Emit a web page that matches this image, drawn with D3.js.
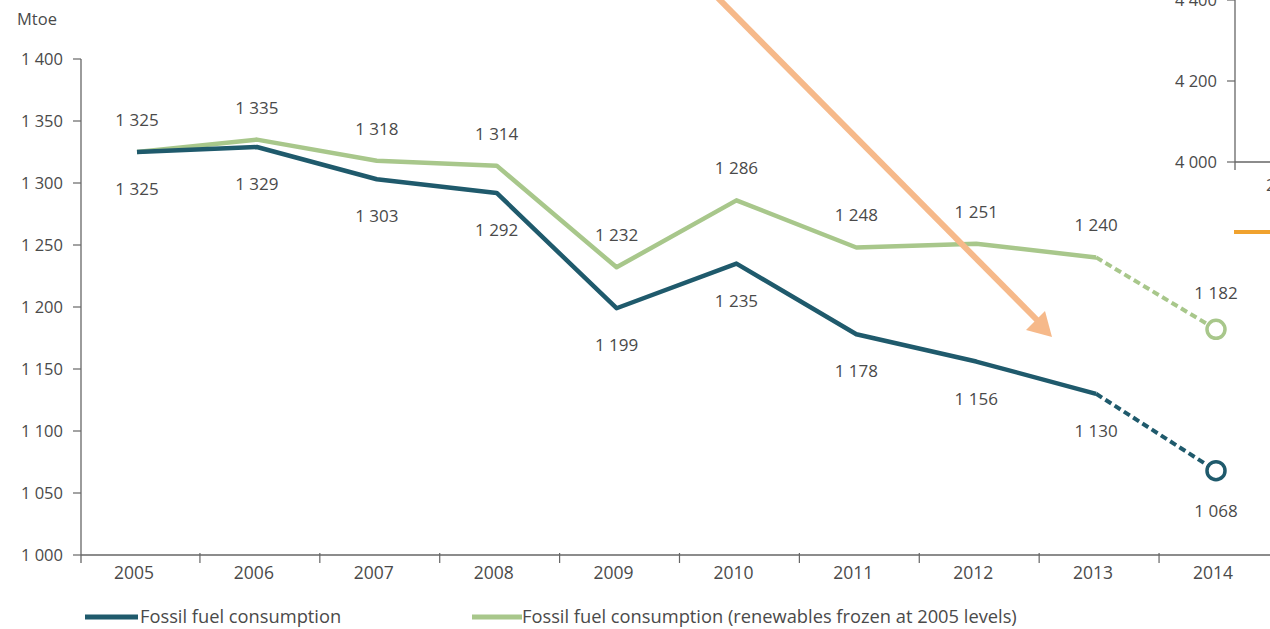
<!DOCTYPE html>
<html>
<head>
<meta charset="utf-8">
<script src="https://cdn.jsdelivr.net/npm/d3@7"></script>
<style>
  html, body { margin: 0; padding: 0; background: #fff; }
  svg { display: block; }
  text { font-family: "Open Sans", "Noto Sans", sans-serif; fill: #4a4a4a; }
</style>
</head>
<body>
<svg id="chart" width="1270" height="629"></svg>
<script>
// ---- data ----
const years = [2005, 2006, 2007, 2008, 2009, 2010, 2011, 2012, 2013, 2014];
const fossil = [1325, 1329, 1303, 1292, 1199, 1235, 1178, 1156, 1130, 1068];
const frozen = [1325, 1335, 1318, 1314, 1232, 1286, 1248, 1251, 1240, 1182];
const yTicks = [1000, 1050, 1100, 1150, 1200, 1250, 1300, 1350, 1400];
const seriesNames = ["Fossil fuel consumption", "Fossil fuel consumption (renewables frozen at 2005 levels)"];
// partial inset (overlapping neighbouring chart)
const insetTicks = [4000, 4200, 4400];

const colDark = "#1f5a6c";
const colGreen = "#a8c78b";
const colArrow = "#f6b98a";
const colOrange = "#f0a22e";
const axisCol = "#666";

const fmt = v => d3.format(",")(v).replace(/,/g, " ");

const svg = d3.select("#chart");

const x = d3.scalePoint().domain(years).range([137, 1216]);
const step = x.step();
const y = d3.scaleLinear().domain([1000, 1400]).range([555, 59]);

// ---- y axis ----
const yAxisG = svg.append("g").attr("transform", "translate(81,0)");
yAxisG.append("line").attr("x1", 0).attr("x2", 0).attr("y1", y(1400)).attr("y2", y(1000) + 8)
  .attr("stroke", axisCol).attr("stroke-width", 1.3);
yTicks.forEach(t => {
  yAxisG.append("line").attr("x1", -8).attr("x2", 0).attr("y1", y(t)).attr("y2", y(t))
    .attr("stroke", axisCol).attr("stroke-width", 1.2);
  yAxisG.append("text").attr("x", -18).attr("y", y(t)).attr("dy", "0.35em")
    .attr("text-anchor", "end").style("font-size", "16.5px").text(fmt(t));
});
svg.append("text").attr("x", 17).attr("y", 25).style("font-size", "16.5px").text("Mtoe");

// ---- x axis ----
svg.append("line").attr("x1", 81).attr("x2", 1270).attr("y1", y(1000)).attr("y2", y(1000))
  .attr("stroke", axisCol).attr("stroke-width", 1.3);
years.forEach((yr, i) => {
  if (i < years.length - 1) {
    const tx = x(yr) + step * 0.525;
    svg.append("line").attr("x1", tx).attr("x2", tx).attr("y1", y(1000) - 2).attr("y2", y(1000) + 8)
      .attr("stroke", axisCol).attr("stroke-width", 1.2);
  }
  svg.append("text").attr("x", x(yr) - 3).attr("y", 579).attr("text-anchor", "middle")
    .style("font-size", "17.5px").text(yr);
});

// ---- lines ----
const line = d3.line().x(d => x(d.year)).y(d => y(d.v));
function drawSeries(vals, col) {
  const pts = years.map((yr, i) => ({ year: yr, v: vals[i] }));
  svg.append("path").datum(pts.slice(0, pts.length - 1)).attr("d", line)
    .attr("fill", "none").attr("stroke", col).attr("stroke-width", 4.5)
    .attr("stroke-linejoin", "round").attr("stroke-linecap", "butt");
  svg.append("path").datum(pts.slice(pts.length - 2)).attr("d", line)
    .attr("fill", "none").attr("stroke", col).attr("stroke-width", 4)
    .attr("stroke-dasharray", "7,4");
  const last = pts[pts.length - 1];
  svg.append("circle").attr("cx", x(last.year)).attr("cy", y(last.v)).attr("r", 9)
    .attr("fill", "#fff").attr("stroke", col).attr("stroke-width", 3.5);
}
drawSeries(frozen, colGreen);
drawSeries(fossil, colDark);

// ---- value labels ----
years.forEach((yr, i) => {
  const last = i === years.length - 1;
  svg.append("text").attr("x", x(yr)).attr("y", y(frozen[i]) - (last ? 36 : 32)).attr("dy", "0.35em")
    .attr("text-anchor", "middle").style("font-size", "17px").text(fmt(frozen[i]));
  svg.append("text").attr("x", x(yr)).attr("y", y(fossil[i]) + (last ? 40 : 37)).attr("dy", "0.35em")
    .attr("text-anchor", "middle").style("font-size", "17px").text(fmt(fossil[i]));
});

// ---- legend ----
const leg = svg.append("g");
leg.append("line").attr("x1", 85).attr("x2", 138).attr("y1", 617).attr("y2", 617)
  .attr("stroke", colDark).attr("stroke-width", 5);
leg.append("text").attr("x", 140).attr("y", 617).attr("dy", "0.35em").style("font-size", "18.3px").text(seriesNames[0]);
leg.append("line").attr("x1", 472).attr("x2", 522).attr("y1", 617).attr("y2", 617)
  .attr("stroke", colGreen).attr("stroke-width", 5);
leg.append("text").attr("x", 522).attr("y", 617).attr("dy", "0.35em").style("font-size", "18.3px").text(seriesNames[1]);

// ---- partial inset from neighbouring chart (top right) ----
const yi = d3.scaleLinear().domain([4000, 4400]).range([162, 0]);
const ins = svg.append("g");
ins.append("line").attr("x1", 1235).attr("x2", 1235).attr("y1", yi(4400) - 5).attr("y2", yi(4000) + 8)
  .attr("stroke", axisCol).attr("stroke-width", 1.3);
ins.append("line").attr("x1", 1235).attr("x2", 1270).attr("y1", yi(4000)).attr("y2", yi(4000))
  .attr("stroke", axisCol).attr("stroke-width", 1.3);
insetTicks.forEach(t => {
  ins.append("line").attr("x1", 1227).attr("x2", 1235).attr("y1", yi(t)).attr("y2", yi(t))
    .attr("stroke", axisCol).attr("stroke-width", 1.2);
  ins.append("text").attr("x", 1217).attr("y", yi(t)).attr("dy", "0.35em")
    .attr("text-anchor", "end").style("font-size", "16.5px").text(fmt(t));
});
ins.append("text").attr("x", 1266).attr("y", 191).style("font-size", "16.5px").text("2");
ins.append("line").attr("x1", 1234).attr("x2", 1270).attr("y1", 232).attr("y2", 232)
  .attr("stroke", colOrange).attr("stroke-width", 4);

// ---- orange arrow overlay ----
const arrow = svg.append("g");
arrow.append("line").attr("x1", 716).attr("y1", -4).attr("x2", 1040).attr("y2", 323)
  .attr("stroke", colArrow).attr("stroke-width", 6);
arrow.append("path").attr("d", "M1052,337 L1026,330 L1045,311 Z").attr("fill", colArrow);
</script>
</body>
</html>
